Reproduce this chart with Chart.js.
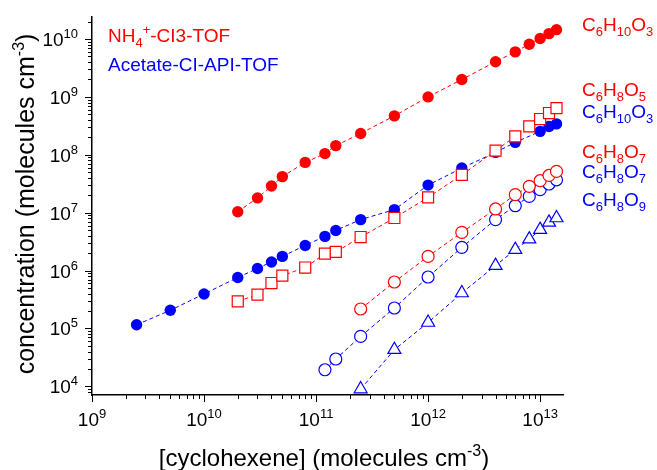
<!DOCTYPE html>
<html>
<head>
<meta charset="utf-8">
<script src="https://cdn.jsdelivr.net/npm/chart.js@4.4.1/dist/chart.umd.min.js"></script>
<style>
  html, body { margin: 0; padding: 0; background: #fff; }
</style>
</head>
<body>
<canvas id="concCanvas" width="657" height="470"></canvas>
<script>
// cyclohexene concentrations (x) for each instrument
let xNH4 = [2e10, 3e10, 4e10, 5e10, 8e10, 1.2e11, 1.5e11, 2.5e11, 5e11, 1e12, 2e12, 4e12, 6e12, 8e12, 1e13, 1.2e13, 1.4e13];
let xNH4Open = [2.5e11, 5e11, 1e12, 2e12, 4e12, 6e12, 8e12, 1e13, 1.2e13, 1.4e13];
let xAcetate = [2.5e9, 5e9, 1e10, 2e10, 3e10, 4e10, 5e10, 8e10, 1.2e11, 1.5e11, 2.5e11, 5e11, 1e12, 2e12, 4e12, 6e12, 1e13, 1.2e13, 1.4e13];
let xAcetateOpen = [1.2e11, 1.5e11, 2.5e11, 5e11, 1e12, 2e12, 4e12, 6e12, 8e12, 1e13, 1.2e13, 1.4e13];
let xAcetateTri = [2.5e11, 5e11, 1e12, 2e12, 4e12, 6e12, 8e12, 1e13, 1.2e13, 1.4e13];

// product concentrations (y)
let nh4C6H10O3 = [1.04e7, 1.8e7, 2.9e7, 4.2e7, 7.4e7, 1.05e8, 1.44e8, 2.34e8, 4.7e8, 1.0e9, 2.0e9, 4.05e9, 6.0e9, 8.1e9, 1.02e10, 1.24e10, 1.45e10];
let nh4C6H8O5 = [2.94e5, 3.84e5, 6.1e5, 8.2e5, 1.13e6, 1.96e6, 2.1e6, 3.8e6, 8.1e6, 1.84e7, 4.5e7, 1.18e8, 2.08e8, 3.1e8, 4.15e8, 5.27e8, 6.4e8];
let nh4C6H8O7 = [2.17e5, 6.35e5, 1.76e6, 4.57e6, 1.16e7, 2.05e7, 2.85e7, 3.57e7, 4.4e7, 5.17e7];
let acC6H10O3 = [1.16e5, 2.06e5, 3.95e5, 7.6e5, 1.09e6, 1.41e6, 1.76e6, 2.72e6, 3.9e6, 4.94e6, 7.6e6, 1.13e7, 3.0e7, 5.9e7, 1.1e8, 1.64e8, 2.54e8, 3.08e8, 3.42e8];
let acC6H8O7 = [1.94e4, 2.97e4, 7.3e4, 2.26e5, 7.75e5, 2.52e6, 7.6e6, 1.32e7, 1.91e7, 2.5e7, 3.13e7, 3.7e7];
let acC6H8O9 = [9.0e3, 4.3e4, 1.27e5, 4.1e5, 1.22e6, 2.3e6, 3.5e6, 5.1e6, 6.8e6, 8.1e6];

let xExponents = [9, 10, 11, 12, 13];
let yExponents = [4, 5, 6, 7, 8, 9, 10];

const FONT = "'Liberation Sans', Arial, sans-serif";
const RED = '#ff0000';
const BLUE = '#0000ff';

let toPoints = function (xs, ys) {
    return xs.map(function (x, i) { return { x: x, y: ys[i] }; });
};

let series = function (xs, ys, color, style, filled, radius) {
    return {
        data: toPoints(xs, ys),
        showLine: true,
        borderColor: color,
        borderWidth: 1,
        borderDash: [4, 3],
        pointStyle: style,
        pointRadius: radius,
        pointBorderColor: color,
        pointBorderWidth: filled ? 0 : 1.2,
        pointBackgroundColor: filled ? color : '#ffffff',
        clip: false
    };
};

// rich text: parts = [[text, mode]] where mode is '', 'sub' or 'sup'
let richWidth = function (ctx, parts, size, small) {
    let w = 0;
    parts.forEach(function (p) {
        ctx.font = (p[1] ? small : size) + 'px ' + FONT;
        w += ctx.measureText(p[0]).width;
    });
    return w;
};

let drawRich = function (ctx, parts, x, y, size, small, align, color, raise) {
    let w = richWidth(ctx, parts, size, small);
    if (align === 'center') x -= w / 2;
    if (align === 'right') x -= w;
    ctx.fillStyle = color;
    ctx.textAlign = 'left';
    ctx.textBaseline = 'alphabetic';
    parts.forEach(function (p) {
        ctx.font = (p[1] ? small : size) + 'px ' + FONT;
        let dy = 0;
        if (p[1] === 'sub') dy = size * 0.27;
        if (p[1] === 'sup') dy = -(raise || size * 0.42);
        ctx.fillText(p[0], x, y + dy);
        x += ctx.measureText(p[0]).width;
    });
};

let formula = function (c, h, o) {
    return [['C', ''], [c, 'sub'], ['H', ''], [h, 'sub'], ['O', ''], [o, 'sub']];
};

let rightLabels = [
    { parts: formula('6', '10', '3'), y: 31, color: RED },
    { parts: formula('6', '8', '5'), y: 96, color: RED },
    { parts: formula('6', '10', '3'), y: 118, color: BLUE },
    { parts: formula('6', '8', '7'), y: 158, color: RED },
    { parts: formula('6', '8', '7'), y: 178, color: BLUE },
    { parts: formula('6', '8', '9'), y: 206, color: BLUE }
];

let axisDecor = {
    id: 'axisDecor',
    afterDraw: function (chart) {
        let ctx = chart.ctx;
        let xs = chart.scales.x;
        let ys = chart.scales.y;
        let area = chart.chartArea;
        ctx.save();
        ctx.strokeStyle = '#000';
        ctx.lineWidth = 1;

        // x ticks, outward below the axis
        for (let n = 8; n <= 13; n++) {
            for (let k = 1; k <= 9; k++) {
                let v = k * Math.pow(10, n);
                if (v < xs.min || v > xs.max) continue;
                let px = Math.round(xs.getPixelForValue(v)) + 0.5;
                let len = k === 1 ? 7 : 4;
                ctx.beginPath();
                ctx.moveTo(px, area.bottom);
                ctx.lineTo(px, area.bottom + len);
                ctx.stroke();
            }
        }
        // y ticks, outward left of the axis
        for (let n = 3; n <= 10; n++) {
            for (let k = 1; k <= 9; k++) {
                let v = k * Math.pow(10, n);
                if (v < ys.min || v > ys.max) continue;
                let py = Math.round(ys.getPixelForValue(v)) + 0.5;
                let len = k === 1 ? 7 : 4;
                ctx.beginPath();
                ctx.moveTo(area.left, py);
                ctx.lineTo(area.left - len, py);
                ctx.stroke();
            }
        }

        xExponents.forEach(function (n) {
            let px = xs.getPixelForValue(Math.pow(10, n));
            drawRich(ctx, [['10', ''], [String(n), 'sup']], px, area.bottom + 31, 19, 13, 'center', '#000', 8);
        });
        yExponents.forEach(function (n) {
            let py = ys.getPixelForValue(Math.pow(10, n));
            drawRich(ctx, [['10', ''], [String(n), 'sup']], area.left - 14, py + 7, 19, 13, 'right', '#000', 8);
        });

        // axis titles
        drawRich(ctx, [['[cyclohexene] (molecules cm', ''], ['-3', 'sup'], [')', '']],
            324, 466, 24, 16, 'center', '#000', 10);
        ctx.save();
        ctx.translate(34, 204);
        ctx.rotate(-Math.PI / 2);
        drawRich(ctx, [['concentration (molecules cm', ''], ['-3', 'sup'], [')', '']],
            0, 0, 25, 16, 'center', '#000', 10);
        ctx.restore();

        // instrument legend
        drawRich(ctx, [['NH', ''], ['4', 'sub'], ['+', 'sup'], ['-CI3-TOF', '']], 108, 42, 19, 13, 'left', RED, 8);
        drawRich(ctx, [['Acetate-CI-API-TOF', '']], 108, 71, 19, 13, 'left', BLUE, 8);

        // species labels on the right
        rightLabels.forEach(function (l) {
            drawRich(ctx, l.parts, 582, l.y, 19, 13, 'left', l.color, 8);
        });
        ctx.restore();
    }
};

let ctx = document.getElementById('concCanvas').getContext('2d');

window.concChart = new Chart(ctx, {
    type: 'scatter',
    data: {
        datasets: [
            series(xNH4, nh4C6H10O3, RED, 'circle', true, 5.7),
            series(xNH4, nh4C6H8O5, RED, 'rect', false, 7.8),
            series(xNH4Open, nh4C6H8O7, RED, 'circle', false, 6),
            series(xAcetate, acC6H10O3, BLUE, 'circle', true, 5.7),
            series(xAcetateOpen, acC6H8O7, BLUE, 'circle', false, 6),
            series(xAcetateTri, acC6H8O9, BLUE, 'triangle', false, 7.5)
        ]
    },
    options: {
        responsive: false,
        animation: false,
        layout: {
            padding: { left: 92, right: 94, top: 17, bottom: 75 }
        },
        plugins: {
            legend: { display: false },
            tooltip: { enabled: false }
        },
        scales: {
            x: {
                type: 'logarithmic',
                min: 1e9,
                max: 1.6e13,
                grid: { display: false, drawTicks: false },
                ticks: { display: false },
                border: { display: true, color: '#000', width: 1.5 }
            },
            y: {
                type: 'logarithmic',
                min: 7.1e3,
                max: 2.4e10,
                grid: { display: false, drawTicks: false },
                ticks: { display: false },
                border: { display: true, color: '#000', width: 1.5 }
            }
        }
    },
    plugins: [axisDecor]
});
</script>
</body>
</html>
